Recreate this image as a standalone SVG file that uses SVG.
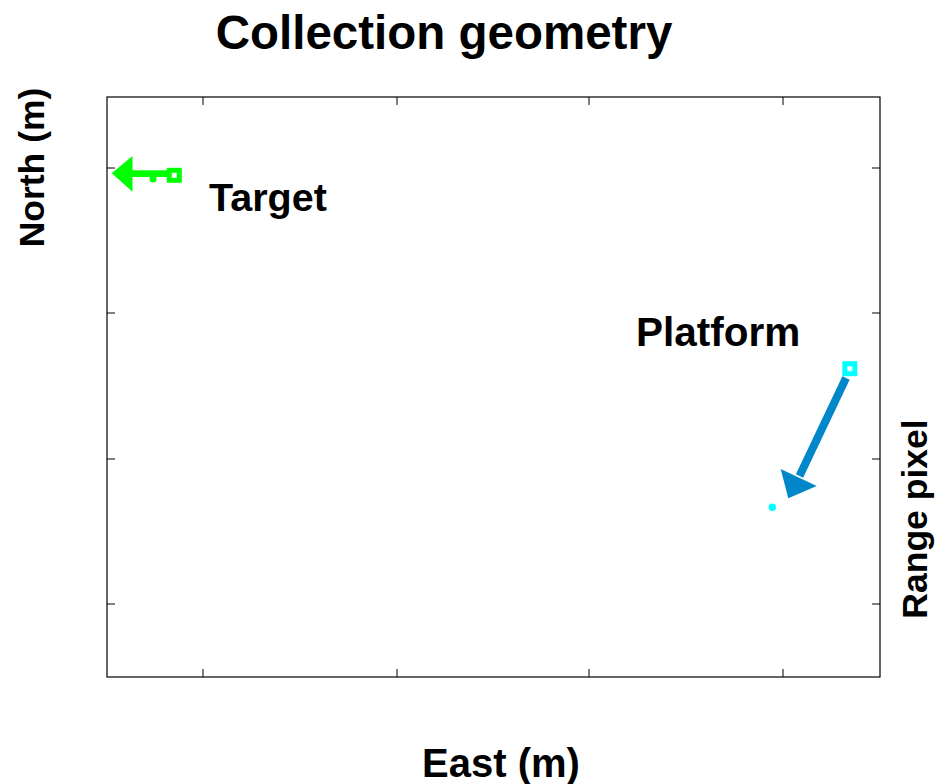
<svg xmlns="http://www.w3.org/2000/svg" width="936" height="784" viewBox="0 0 936 784">
<style>
text{font-family:"Liberation Sans",Arial,sans-serif;font-weight:bold;fill:#000}
.ax{fill:none;stroke:#000;stroke-width:1.2}
.tk{stroke:#000;stroke-width:1}
</style>
<rect width="936" height="784" fill="#fff"/>
<g id="axes">
<rect class="ax" x="107" y="97" width="773" height="580"/>
<path class="tk" d="M203,97v8M397,97v8M589,97v8M783,97v8M203,677v-8M397,677v-8M589,677v-8M783,677v-8M107,168h8M107,313h8M107,459h8M107,604h8M880,168h-8M880,313h-8M880,459h-8M880,604h-8"/>
</g>
<text id="title" x="444" y="49" font-size="47.5" text-anchor="middle">Collection geometry</text>
<text id="xlabel" x="501" y="777" font-size="40" text-anchor="middle">East (m)</text>
<text id="ylabel" transform="translate(44,167.5) rotate(-90)" font-size="35.5" text-anchor="middle">North (m)</text>
<text id="rlabel" transform="translate(927,519) rotate(-90)" font-size="35.5" text-anchor="middle">Range pixel</text>
<g id="target">
<polygon points="111.7,173.3 132.5,156 132.5,191.7" fill="#00ff00"/>
<rect x="131" y="170.3" width="37" height="6.7" fill="#00ff00"/>
<circle cx="153" cy="179" r="3.5" fill="#00ff00"/>
<rect x="169.3" y="170.3" width="10" height="10" fill="#fff" stroke="#00ff00" stroke-width="5"/>
<text x="209" y="211" font-size="39.5">Target</text>
</g>
<g id="platform">
<line x1="846" y1="378" x2="799.5" y2="476" stroke="#0087c9" stroke-width="8"/>
<polygon points="788.3,498.3 780.7,469 816.7,486" fill="#0087c9"/>
<rect x="844.8" y="363.7" width="10" height="10" fill="#fff" stroke="#00ffff" stroke-width="5"/>
<circle cx="772.3" cy="507.3" r="3.7" fill="#00ffff"/>
<text x="636" y="346" font-size="40.5">Platform</text>
</g>
</svg>
